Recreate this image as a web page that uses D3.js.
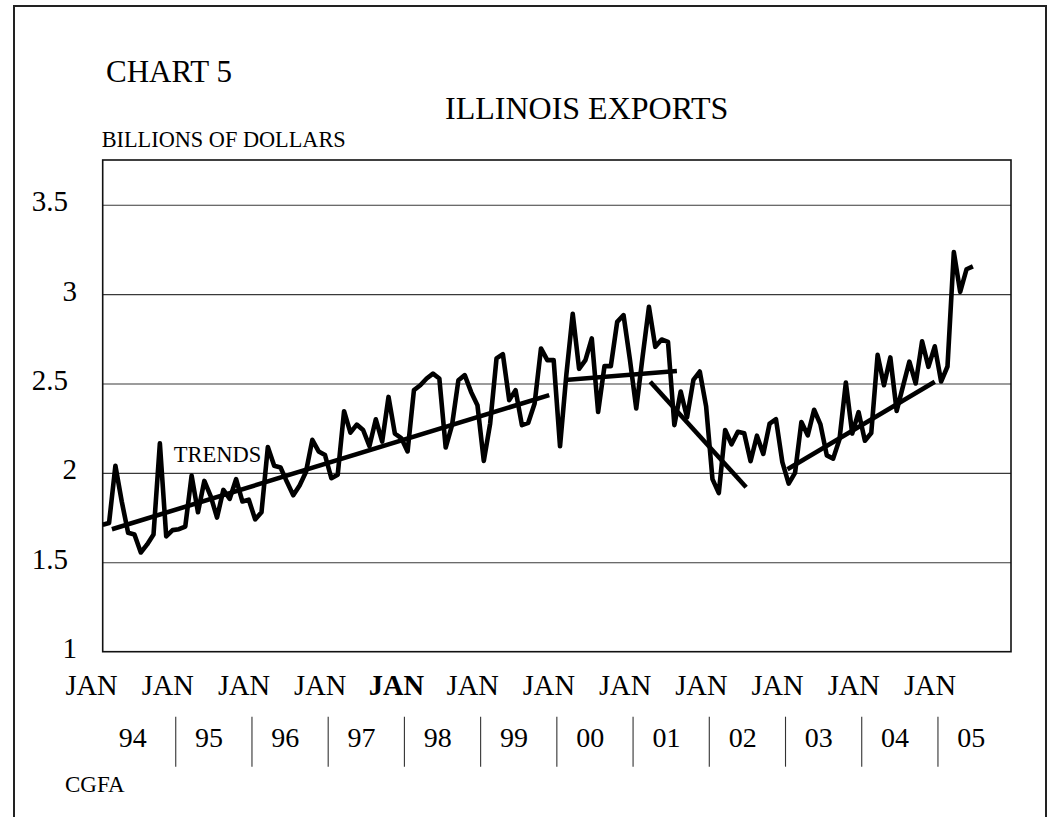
<!DOCTYPE html>
<html><head><meta charset="utf-8">
<script src="https://cdn.jsdelivr.net/npm/d3@7"></script>
<style>html,body{margin:0;padding:0;background:#fff;} svg{display:block;}</style>
</head><body>
<script>
// ---- data ----
const yearLabels = ["94","95","96","97","98","99","00","01","02","03","04","05"];
const monthTickLabel = "JAN";
const boldJanIndex = 4;
const nMonths = 144; // Jan 1994 .. Dec 2005 category slots
const yTicks = [1, 1.5, 2, 2.5, 3, 3.5];
const yMax = 3.75;
// monthly Illinois exports, billions of dollars, Jan 1994 - Jun 2005
const exportsBn = [
  1.71,1.72,2.04,1.84,1.665,1.655,1.555,1.60,1.655,2.165,1.645,1.68,
  1.685,1.70,1.985,1.78,1.955,1.87,1.75,1.905,1.855,1.965,1.84,1.85,
  1.74,1.78,2.145,2.04,2.03,1.95,1.875,1.93,2.005,2.185,2.12,2.10,
  1.97,1.99,2.345,2.225,2.27,2.24,2.15,2.30,2.175,2.425,2.22,2.195,
  2.12,2.463,2.49,2.528,2.555,2.528,2.142,2.267,2.518,2.547,2.453,2.379,
  2.067,2.276,2.64,2.664,2.407,2.463,2.267,2.28,2.388,2.696,2.631,2.631,
  2.149,2.55,2.89,2.582,2.631,2.752,2.341,2.597,2.597,2.845,2.882,2.635,
  2.36,2.65,2.929,2.705,2.746,2.733,2.267,2.455,2.31,2.52,2.567,2.372,
  1.965,1.887,2.24,2.16,2.23,2.222,2.065,2.208,2.106,2.276,2.30,2.06,
  1.94,2.0,2.285,2.21,2.353,2.271,2.098,2.08,2.188,2.505,2.22,2.34,
  2.18,2.223,2.66,2.49,2.646,2.347,2.485,2.622,2.50,2.736,2.593,2.708,
  2.511,2.595,3.235,3.012,3.139,3.155
];
// trend segments: [month index, value] endpoints
const trendSegments = [
  [[1.45, 1.685], [70.3, 2.435]],
  [[72.8, 2.52], [90.4, 2.57]],
  [[86.2, 2.51], [101.3, 1.92]],
  [[107.8, 2.02], [131.0, 2.51]]
];
const trendLabel = "TRENDS";
const trendLabelAt = [11.2, 2.06];

// ---- drawing ----
const W = 1051, H = 817;
const FONT = "'Liberation Serif','Times New Roman',serif";
const svg = d3.select("body").append("svg").attr("width", W).attr("height", H)
  .style("font-family", FONT);

const plot = {left: 102.7, top: 160, right: 1011, bottom: 651.7};
const x = d3.scaleLinear().domain([0, nMonths - 1]).range([plot.left, plot.right]);
const y = d3.scaleLinear().domain([yTicks[0], yMax]).range([plot.bottom, plot.top]);

// outer frame (bottom edge runs off the page)
svg.append("rect").attr("x", 14).attr("y", 6).attr("width", 1032).attr("height", 900)
  .attr("fill", "none").attr("stroke", "#222").attr("stroke-width", 2);

// titles
svg.append("text").attr("x", 106).attr("y", 82).attr("font-size", 31).text("CHART 5");
svg.append("text").attr("x", 445).attr("y", 119).attr("font-size", 32).text("ILLINOIS EXPORTS");
svg.append("text").attr("x", 101.7).attr("y", 147).attr("font-size", 22.3).text("BILLIONS OF DOLLARS");

// gridlines via axis
const grid = svg.append("g").attr("transform", `translate(${plot.left},0)`)
  .call(d3.axisLeft(y).tickValues(yTicks.slice(1)).tickSize(-(plot.right - plot.left)).tickFormat(""));
grid.select(".domain").remove();
grid.selectAll("line").attr("stroke", "#3a3a3a").attr("stroke-width", 1.1);

// plot border
svg.append("rect").attr("x", plot.left).attr("y", plot.top)
  .attr("width", plot.right - plot.left).attr("height", plot.bottom - plot.top)
  .attr("fill", "none").attr("stroke", "#111").attr("stroke-width", 1.6);

// y labels
const yAx = svg.append("g").call(d3.axisLeft(y).tickValues(yTicks).tickSize(0).tickFormat(d3.format("")));
yAx.select(".domain").remove();
yAx.selectAll("text")
  .attr("x", d => Number.isInteger(d) ? 77 : 68)
  .attr("dy", null).attr("y", 6)
  .attr("font-size", 29).attr("font-family", FONT).attr("fill", "#000")
  .attr("text-anchor", "end");

// x labels
const years = d3.range(yearLabels.length);
svg.append("g").selectAll("text").data(years).join("text")
  .attr("x", k => x(12 * k - 1.75)).attr("y", 695)
  .attr("text-anchor", "middle").attr("font-size", 28.5)
  .attr("font-weight", k => k === boldJanIndex ? "bold" : "normal")
  .text(monthTickLabel);
svg.append("g").selectAll("line").data(years.slice(1)).join("line")
  .attr("x1", k => x(12 * k - 0.5)).attr("x2", k => x(12 * k - 0.5))
  .attr("y1", 716.7).attr("y2", 766.7)
  .attr("stroke", "#333").attr("stroke-width", 1.1);
svg.append("g").selectAll("text").data(years).join("text")
  .attr("x", k => x(12 * k + 4.75)).attr("y", 746.7)
  .attr("text-anchor", "middle").attr("font-size", 28)
  .text(k => yearLabels[k]);
svg.append("text").attr("x", 65).attr("y", 791.7).attr("font-size", 23).text("CGFA");

// data line
const line = d3.line().x((d, i) => x(i)).y(d => y(d));
svg.append("path").datum(exportsBn).attr("d", line)
  .attr("fill", "none").attr("stroke", "#000").attr("stroke-width", 4.6)
  .attr("stroke-linejoin", "round");

// trends
const tline = d3.line().x(d => x(d[0])).y(d => y(d[1]));
svg.append("g").selectAll("path").data(trendSegments).join("path")
  .attr("d", tline).attr("fill", "none").attr("stroke", "#000").attr("stroke-width", 4.6);
svg.append("text").attr("x", x(trendLabelAt[0])).attr("y", y(trendLabelAt[1]))
  .attr("font-size", 22.5).text(trendLabel);
</script>
</body></html>
